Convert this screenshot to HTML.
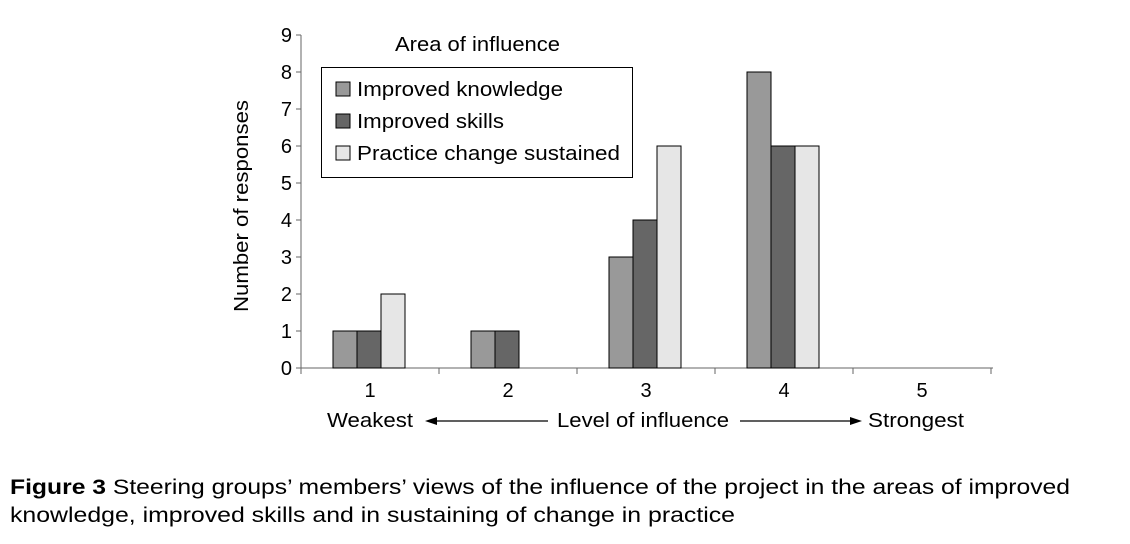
<!DOCTYPE html>
<html><head><style>body{margin:0;background:#fff}</style></head><body>
<svg width="1130" height="539" xmlns="http://www.w3.org/2000/svg" font-family="Liberation Sans, sans-serif">
<rect width="1130" height="539" fill="#fff"/>
<g stroke="#666" stroke-width="1" fill="none">
<line x1="301" y1="35" x2="301" y2="368"/>
<line x1="301" y1="368" x2="993" y2="368"/>
<line x1="296" y1="35" x2="301" y2="35"/><line x1="296" y1="72" x2="301" y2="72"/><line x1="296" y1="109" x2="301" y2="109"/><line x1="296" y1="146" x2="301" y2="146"/><line x1="296" y1="183" x2="301" y2="183"/><line x1="296" y1="220" x2="301" y2="220"/><line x1="296" y1="257" x2="301" y2="257"/><line x1="296" y1="294" x2="301" y2="294"/><line x1="296" y1="331" x2="301" y2="331"/><line x1="296" y1="368" x2="301" y2="368"/>
<line x1="301" y1="368" x2="301" y2="374"/><line x1="439" y1="368" x2="439" y2="374"/><line x1="577" y1="368" x2="577" y2="374"/><line x1="715" y1="368" x2="715" y2="374"/><line x1="853" y1="368" x2="853" y2="374"/><line x1="991" y1="368" x2="991" y2="374"/>
</g>
<g font-size="20" text-anchor="end" fill="#000">
<text x="292" y="375">0</text><text x="292" y="338">1</text><text x="292" y="301">2</text><text x="292" y="264">3</text><text x="292" y="227">4</text><text x="292" y="190">5</text><text x="292" y="153">6</text><text x="292" y="116">7</text><text x="292" y="79">8</text><text x="292" y="42">9</text>
</g>
<text transform="translate(248,206) rotate(-90)" font-size="20" text-anchor="middle" textLength="212" lengthAdjust="spacingAndGlyphs">Number of responses</text>
<g stroke="#000" stroke-width="1">
<rect x="333" y="331" width="24" height="37" fill="#999"/><rect x="357" y="331" width="24" height="37" fill="#666"/><rect x="381" y="294" width="24" height="74" fill="#e6e6e6"/>
<rect x="471" y="331" width="24" height="37" fill="#999"/><rect x="495" y="331" width="24" height="37" fill="#666"/>
<rect x="609" y="257" width="24" height="111" fill="#999"/><rect x="633" y="220" width="24" height="148" fill="#666"/><rect x="657" y="146" width="24" height="222" fill="#e6e6e6"/>
<rect x="747" y="72" width="24" height="296" fill="#999"/><rect x="771" y="146" width="24" height="222" fill="#666"/><rect x="795" y="146" width="24" height="222" fill="#e6e6e6"/>
</g>
<g font-size="20" text-anchor="middle">
<text x="370" y="397">1</text><text x="508" y="397">2</text><text x="646" y="397">3</text><text x="784" y="397">4</text><text x="922" y="397">5</text>
</g>
<g font-size="20">
<text x="327" y="427" textLength="86" lengthAdjust="spacingAndGlyphs">Weakest</text>
<text x="557" y="427" textLength="172" lengthAdjust="spacingAndGlyphs">Level of influence</text>
<text x="868" y="427" textLength="96" lengthAdjust="spacingAndGlyphs">Strongest</text>
</g>
<g stroke="#000" stroke-width="1.3"><line x1="435" y1="421" x2="548" y2="421"/><line x1="740" y1="421" x2="852" y2="421"/></g>
<polygon points="425,421 437,417 437,425" fill="#000"/>
<polygon points="862,421 850,417 850,425" fill="#000"/>
<text x="395" y="51" font-size="20" textLength="165" lengthAdjust="spacingAndGlyphs">Area of influence</text>
<rect x="321.5" y="67.5" width="311" height="110" fill="#fff" stroke="#000"/>
<g stroke="#000"><rect x="336" y="82" width="14" height="14" fill="#999"/><rect x="336" y="114" width="14" height="14" fill="#666"/><rect x="336" y="146" width="14" height="14" fill="#e6e6e6"/></g>
<g font-size="20"><text x="357" y="96" textLength="206" lengthAdjust="spacingAndGlyphs">Improved knowledge</text><text x="357" y="128" textLength="147" lengthAdjust="spacingAndGlyphs">Improved skills</text><text x="357" y="160" textLength="263" lengthAdjust="spacingAndGlyphs">Practice change sustained</text></g>
<g font-size="21"><text x="10" y="494" textLength="1060" lengthAdjust="spacingAndGlyphs"><tspan font-weight="bold">Figure 3</tspan>  Steering groups’ members’ views of the influence of the project in the areas of improved</text>
<text x="10" y="522" textLength="725" lengthAdjust="spacingAndGlyphs">knowledge, improved skills and in sustaining of change in practice</text></g>
</svg>
</body></html>
